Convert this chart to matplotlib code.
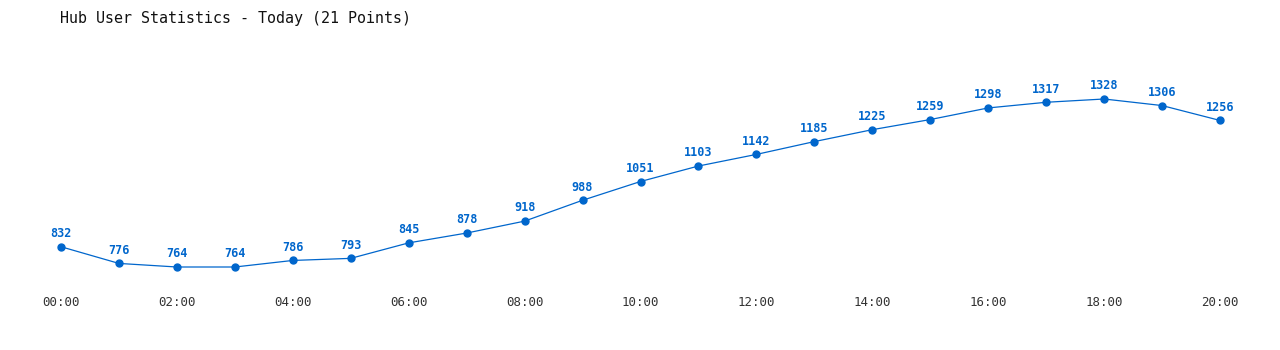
import matplotlib
matplotlib.use("Agg")
import matplotlib.pyplot as plt

hours = list(range(21))
users = [832, 776, 764, 764, 786, 793, 845, 878, 918, 988, 1051,
         1103, 1142, 1185, 1225, 1259, 1298, 1317, 1328, 1306, 1256]
tick_pos = list(range(0, 21, 2))
tick_labels = ["%02d:00" % h for h in tick_pos]
title = "Hub User Statistics - Today (21 Points)"

blue = "#0066cc"

fig = plt.figure(figsize=(12.8, 3.5), dpi=100)
# axes placed in pixel terms: x 61..1220, y rows 40..290 from top
ax = fig.add_axes([61 / 1280, 60 / 350, (1220 - 61) / 1280, 250 / 350])

ax.plot(hours, users, color=blue, lw=0.9, marker="o", markersize=5, zorder=3, clip_on=False)
for h, u in zip(hours, users):
    ax.annotate(str(u), (h, u), xytext=(0, 9.5), textcoords="offset points",
                ha="center", va="center", fontsize=8.5, fontweight="bold",
                family="DejaVu Sans Mono", color=blue)

# value scale: 764 -> row 267, 1328 -> row 99
ppu = (267 - 99) / (1328 - 764)
ax.set_ylim(764 - (290 - 267) / ppu, 1328 + (99 - 40) / ppu)
ax.set_xlim(0, 20)

ax.set_xticks(tick_pos)
ax.set_xticklabels(tick_labels, family="DejaVu Sans Mono", fontsize=9, color="#333333")
ax.tick_params(axis="x", length=0, pad=4.5)
ax.set_yticks([])
for s in ax.spines.values():
    s.set_visible(False)

fig.text(60 / 1280, 1 - 18 / 350, title, family="DejaVu Sans Mono", fontsize=10.8,
         va="center", ha="left", color="#111111")

fig.savefig("out.png", dpi=100, facecolor="white")
